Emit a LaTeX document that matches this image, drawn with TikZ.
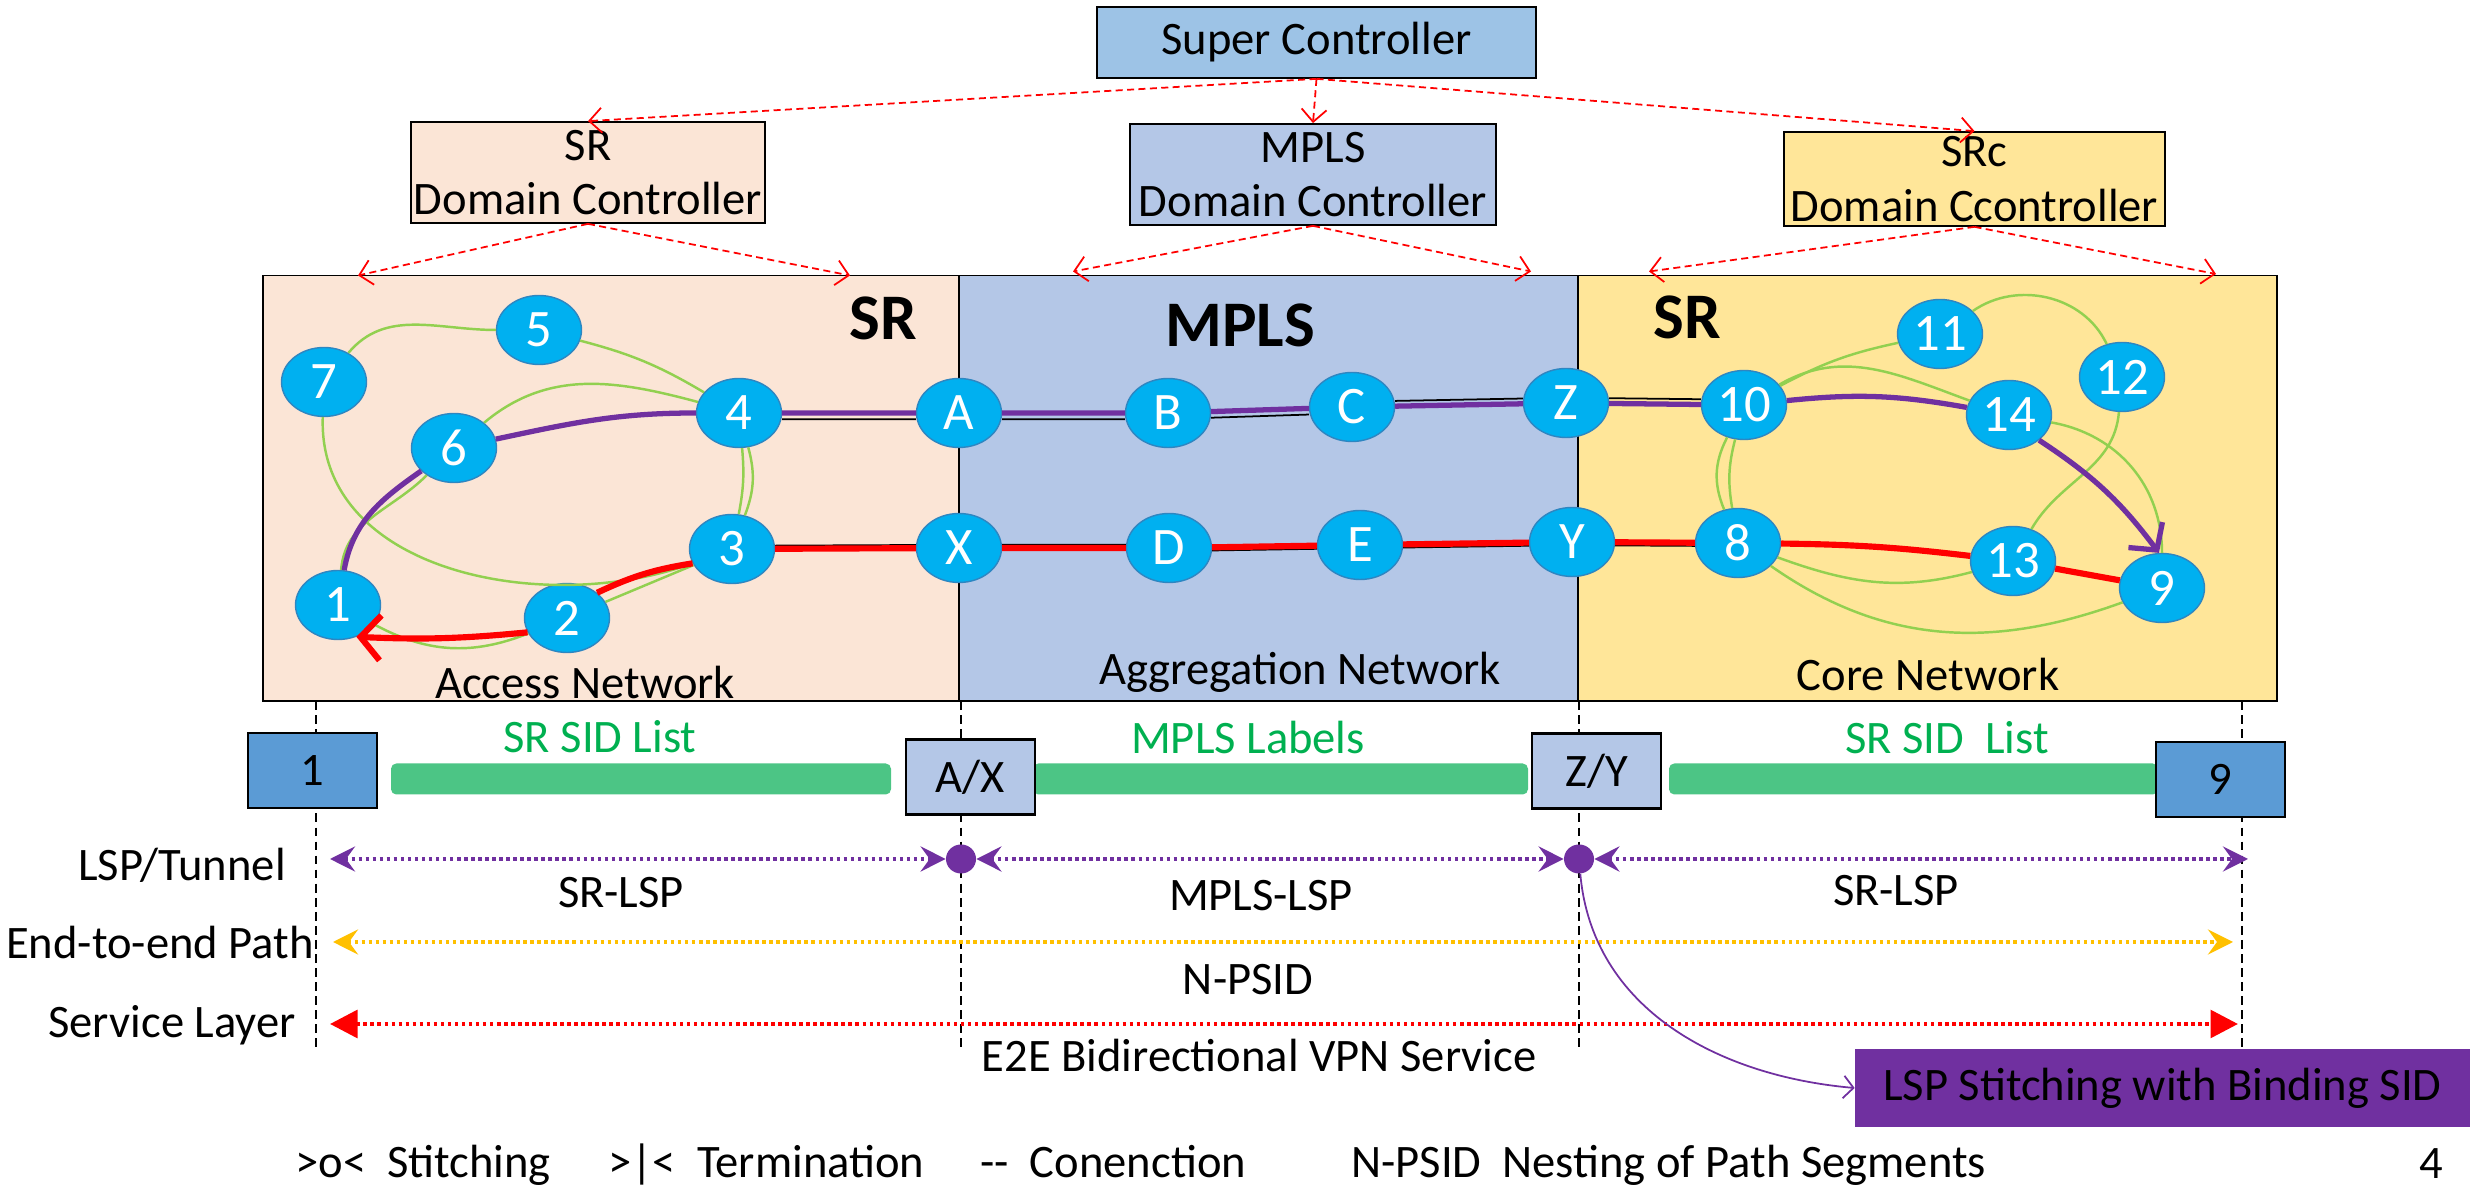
\documentclass[tikz,border=0pt]{standalone}
\usepackage{fontspec}
\setmainfont{Carlito}
\usetikzlibrary{arrows.meta,shapes.geometric}

\definecolor{peach}{HTML}{FBE5D6}
\definecolor{steel}{HTML}{B4C7E7}
\definecolor{sand}{HTML}{FFE699}
\definecolor{sky}{HTML}{9DC3E6}
\definecolor{cyanode}{HTML}{00B0F0}
\definecolor{nodeedge}{HTML}{2E86C1}
\definecolor{lspviolet}{HTML}{7030A0}
\definecolor{meshgreen}{HTML}{92D050}
\definecolor{bargreen}{HTML}{4CC585}
\definecolor{txtgreen}{HTML}{00B050}
\definecolor{boxblue}{HTML}{5B9BD5}
\definecolor{amber}{HTML}{FFC000}

\newcommand{\bigtxt}{\fontsize{26.5}{31}\selectfont}

\tikzset{
  ctrlbox/.style={draw, line width=1pt, align=center, inner sep=0pt, font=\bigtxt},
  router/.style={ellipse, draw=nodeedge, line width=0.8pt, fill=cyanode, text=white,
    minimum width=1.7cm, minimum height=1.38cm, inner sep=0pt, font=\fontsize{30}{30}\selectfont},
  ctlarrow/.style={red, line width=1pt, dash pattern=on 4pt off 2.5pt,
    -{Straight Barb[length=0.25cm,width=0.5cm]}},
  mesh/.style={meshgreen, line width=1.4pt},
  link/.style={black, line width=1pt},
  vpath/.style={lspviolet, line width=3pt},
  rpath/.style={red, line width=3.5pt},
  endbox/.style={draw, line width=1.2pt, minimum width=2.58cm, minimum height=1.5cm, inner sep=0pt, font=\bigtxt},
  sidbar/.style={fill=bargreen, rounded corners=3pt},
  stitch/.style={ellipse, fill=lspviolet, minimum width=0.6cm, minimum height=0.58cm, inner sep=0pt},
  rowline/.style={line width=2.5pt, dash pattern=on 2pt off 2pt, <->},
  lbl/.style={font=\bigtxt, inner sep=0pt},
  domlbl/.style={font=\fontsize{37}{37}\selectfont\bfseries},
  guide/.style={line width=0.9pt, dash pattern=on 5pt off 3pt}
}

\begin{document}
\begin{tikzpicture}
\useasboundingbox (0,0) rectangle (49.56,23.88);

% domains
\draw[line width=1pt, fill=peach] (5.26,9.86) rectangle (19.18,18.37);
\draw[line width=1pt, fill=steel] (19.18,9.86) rectangle (31.56,18.37);
\draw[line width=1pt, fill=sand] (31.56,9.86) rectangle (45.54,18.37);
\node[domlbl] (srA) at (17.66,17.52) {SR};
\node[domlbl] (mplsT) at (24.8,17.38) {MPLS};
\node[domlbl] (srC) at (33.74,17.54) {SR};
\node[lbl] (accN) at (11.7,10.22) {Access Network};
\node[lbl] (aggN) at (26.0,10.44) {Aggregation Network};
\node[lbl] (corN) at (38.56,10.38) {Core Network};

% controllers
\node[ctrlbox, fill=sky, minimum width=8.78cm, minimum height=1.42cm] (sc) at (26.33,23.03) {Super Controller};
\node[ctrlbox, fill=peach, minimum width=7.08cm, minimum height=2.02cm] (srdc) at (11.76,20.43) {SR\\Domain Controller};
\node[ctrlbox, fill=steel, minimum width=7.32cm, minimum height=2.02cm] (mplsdc) at (26.26,20.39) {MPLS\\Domain Controller};
\node[ctrlbox, fill=sand, minimum width=7.62cm, minimum height=1.88cm] (srcdc) at (39.49,20.30) {SRc\\Domain Ccontroller};
\coordinate (acL) at (7.16,18.37); \coordinate (acR) at (17.0,18.37);
\coordinate (agL) at (21.46,18.45); \coordinate (agR) at (30.62,18.45);
\coordinate (coL) at (32.98,18.45); \coordinate (coR) at (44.32,18.40);
\draw[ctlarrow] (sc.south) -- (srdc.north);
\draw[ctlarrow] (sc.south) -- (mplsdc.north);
\draw[ctlarrow] (sc.south) -- (srcdc.north);
\draw[ctlarrow] (srdc.south) -- (acL);
\draw[ctlarrow] (srdc.south) -- (acR);
\draw[ctlarrow] (mplsdc.south) -- (agL);
\draw[ctlarrow] (mplsdc.south) -- (agR);
\draw[ctlarrow] (srcdc.south) -- (coL);
\draw[ctlarrow] (srcdc.south) -- (coR);

% routers
\node[router] (n7) at (6.48,16.24) {7};
\node[router] (n5) at (10.78,17.28) {5};
\node[router] (n6) at (9.08,14.92) {6};
\node[router] (n4) at (14.78,15.62) {4};
\node[router] (n3) at (14.64,12.90) {3};
\node[router] (n2) at (11.34,11.52) {2};
\node[router] (n1) at (6.76,11.78) {1};
\node[router] (A) at (19.18,15.62) {A};
\node[router] (X) at (19.18,12.92) {X};
\node[router] (B) at (23.36,15.62) {B};
\node[router] (C) at (27.04,15.74) {C};
\node[router] (Z) at (31.32,15.82) {Z};
\node[router] (D) at (23.38,12.92) {D};
\node[router] (E) at (27.2,12.98) {E};
\node[router] (Y) at (31.44,13.04) {Y};
\node[router] (n10) at (34.88,15.78) {10};
\node[router] (n11) at (38.8,17.2) {11};
\node[router] (n12) at (42.44,16.34) {12};
\node[router] (n14) at (40.18,15.58) {14};
\node[router] (n8) at (34.76,13.02) {8};
\node[router] (n13) at (40.26,12.66) {13};
\node[router] (n9) at (43.24,12.12) {9};

% access mesh
\draw[mesh] (n7) to[out=50,in=180] (n5);
\draw[mesh] (n5) to[bend left=8] (n4);
\draw[mesh] (n7) to[out=-92,in=200] (n3);
\draw[mesh] (n6) to[out=40,in=165] (n4);
\draw[mesh] (n4) to[bend left=8] (n3);
\draw[mesh] (n4) to[bend left=18] (n3);
\draw[mesh] (n6) to[out=225,in=85] (n1);
\draw[mesh] (n1) to[bend right=25] (n2);
\draw[mesh] (n2) -- (n3);
% core mesh
\draw[mesh] (n10) to[bend left=8] (n11);
\draw[mesh] (n11) to[out=35,in=115] (n12);
\draw[mesh] (n10) to[out=30,in=160] (n14);
\draw[mesh] (n10) to[bend right=12] (n8);
\draw[mesh] (n10) to[bend right=25] (n8);
\draw[mesh] (n12) to[out=-95,in=60] (n13);
\draw[mesh] (n14) to[out=-10,in=90] (n9);
\draw[mesh] (n8) to[out=-20,in=195] (n13);
\draw[mesh] (n8) to[out=-35,in=200] (n9);

% links and paths
\draw[link, transform canvas={yshift=-3.5pt}] (n4) -- (A) -- (B) -- (C);
\draw[link, transform canvas={yshift=3pt}] (C) -- (Z) -- (n10);
\draw[link, transform canvas={yshift=1.8pt}] (n3) -- (X) -- (D);
\draw[link, transform canvas={yshift=-1.8pt}] (D) -- (E) -- (Y) -- (n8);
\draw[vpath] (n6) to[out=215,in=80] (n1);
\draw[vpath] (n6) to[out=12,in=180] (n4);
\draw[vpath] (n4) -- (A) -- (B) -- (C) -- (Z) -- (n10);
\draw[vpath] (n10) to[bend left=8] (n14);
\draw[vpath, -{Straight Barb[length=0.38cm,width=0.85cm]}] (n14.-40) to[bend left=10] (n9.95);%to 9
\draw[rpath] (n3) -- (X) -- (D) -- (E) -- (Y) -- (n8);
\draw[rpath] (n8) to[bend left=3] (n13);
\draw[rpath] (n13) -- (n9);
\draw[rpath] (n3.200) to[bend right=8] (n2.40);
\draw[rpath, -{Straight Barb[length=0.4cm,width=0.9cm]}] (n2.200) to[bend left=4] (n1.-60);%to 1

% end points and label stacks
\draw[guide] (6.32,9.86) -- (6.32,2.84);
\draw[guide] (19.22,9.86) -- (19.22,2.84);
\draw[guide] (31.58,9.86) -- (31.58,2.84);
\draw[guide] (44.84,9.86) -- (44.84,2.84);
\fill[sidbar] (7.82,7.99) rectangle (17.82,8.61);
\fill[sidbar] (20.66,7.99) rectangle (30.56,8.61);
\fill[sidbar] (33.38,7.99) rectangle (43.16,8.61);
\node[endbox, fill=boxblue] (e1) at (6.25,8.47) {1};
\node[endbox, fill=steel] (eAX) at (19.41,8.34) {A/X};
\node[endbox, fill=steel] (eZY) at (31.93,8.46) {Z/Y};
\node[endbox, fill=boxblue] (e9) at (44.41,8.29) {9};
\node[lbl, txtgreen] (sid1) at (12.0,9.14) {SR SID List};
\node[lbl, txtgreen] (mlab) at (24.96,9.12) {MPLS Labels};
\node[lbl, txtgreen] (sid2) at (38.94,9.12) {SR SID\ \ List};

% layer rows
\node[lbl] (tun) at (3.64,6.58) {LSP/Tunnel};
\node[lbl] (e2e) at (3.2,5.02) {End-to-end Path};
\node[lbl] (svc) at (3.44,3.38) {Service Layer};
\coordinate (lspL) at (6.6,6.7); \coordinate (lspR) at (44.96,6.7);
\coordinate (e2eL) at (6.66,5.04); \coordinate (e2eR) at (44.66,5.04);
\coordinate (svcL) at (6.6,3.4); \coordinate (svcR) at (44.76,3.4);
\node[stitch] (stAX) at (19.22,6.7) {};
\node[stitch] (stZY) at (31.58,6.7) {};
\draw[rowline, lspviolet, >={Stealth[length=0.5cm,width=0.5cm,inset=0.18cm]}] (lspL) -- (stAX);
\draw[rowline, lspviolet, >={Stealth[length=0.5cm,width=0.5cm,inset=0.18cm]}] (stAX) -- (stZY);
\draw[rowline, lspviolet, >={Stealth[length=0.5cm,width=0.5cm,inset=0.18cm]}] (stZY) -- (lspR);
\draw[rowline, amber, >={Stealth[length=0.5cm,width=0.5cm,inset=0.18cm]}] (e2eL) -- (e2eR);
\draw[rowline, red, >={Triangle[length=0.55cm,width=0.55cm]}] (svcL) -- (svcR);
\node[lbl] (lsp1) at (12.42,6.02) {SR-LSP};
\node[lbl] (lsp2) at (25.22,5.96) {MPLS-LSP};
\node[lbl] (lsp3) at (37.92,6.06) {SR-LSP};
\node[lbl] (npsid) at (24.96,4.28) {N-PSID};
\node[lbl] (vpn) at (25.18,2.76) {E2E Bidirectional VPN Service};

\node[lbl, fill=lspviolet, minimum width=12.3cm, minimum height=1.56cm] (bsid) at (43.25,2.12) {LSP Stitching with Binding SID};
\draw[lspviolet, line width=1pt, -{Straight Barb[length=0.2cm,width=0.45cm]}] (stZY) to[out=-85,in=175] (bsid.west);

% legend
\node[lbl, anchor=base west] (lg1) at (5.9,0.32) {>o<\ \ Stitching};
\node[lbl, anchor=base west] (lg2) at (12.16,0.32) {>|<\ \ Termination};
\node[lbl, anchor=base west] (lg3) at (19.6,0.32) {-{}-\ \ Conenction};
\node[lbl, anchor=base west] (lg4) at (27.02,0.32) {N-PSID\ \ Nesting of Path Segments};
\node[lbl, anchor=base] (pg) at (48.62,0.3) {4};
\end{tikzpicture}
\end{document}
